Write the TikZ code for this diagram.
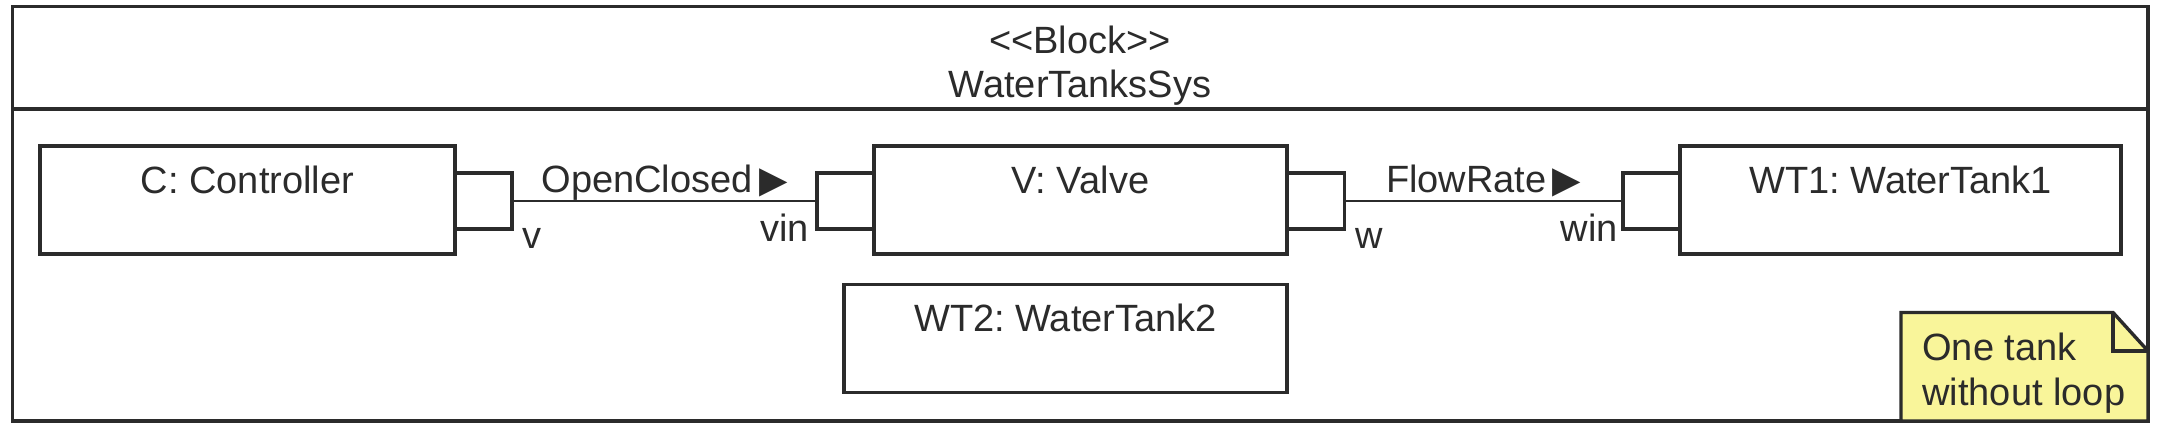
\documentclass[tikz,border=0pt]{standalone}
\usepackage{fontspec}
\setmainfont{Liberation Sans}[Ligatures=TeXOff]
\newfontfamily\symbfont{DejaVu Sans}
\usetikzlibrary{positioning,calc}
\definecolor{ink}{HTML}{2B2B2B}
\definecolor{notefill}{HTML}{F9F59A}
\tikzset{
  part/.style={draw=ink, line width=1.7pt, inner sep=0pt, text height=23.5pt, text depth=30.5pt, minimum height=54pt},
  port/.style={draw=ink, line width=1.7pt, fill=white, inner sep=0pt, minimum width=28.5pt, minimum height=28pt},
  flow/.style={draw=ink, line width=1.2pt},
  portname/.style={inner sep=0pt, text=ink},
}
\newcommand{\flowtri}{{\symbfont\fontsize{18.5}{18.5}\selectfont ▶}}

\begin{document}
\frenchspacing
\begin{tikzpicture}[x=0.5pt, y=-0.5pt, font=\fontsize{19}{22}\selectfont\frenchspacing, text=ink]
        \useasboundingbox (0,0) rectangle (2162,433);

        % Define corners of the block frame
        \coordinate (F1) at (12.5,6.5);    % Top-left
        \coordinate (F2) at (2148,421);    % Bottom-right
        \coordinate (L1) at (12.5,109);    % Title line, left
        \coordinate (L2) at (2148,109);    % Title line, right

        % Draw block frame and title compartment
        \draw[ink, line width=1.7pt] (F1) rectangle (F2);
        \draw[ink, line width=1.7pt] (L1) -- (L2);
        \node[anchor=north, inner sep=0pt, align=center] (title) at (1080,25.5) {<<Block>>\\WaterTanksSys};

        % Draw parts
        \node[part, minimum width=207.5pt] (C) at (247.5,200) {C: Controller};
        \node[part, minimum width=206.5pt] (V) at (1080.5,200) {V: Valve};
        \node[part, minimum width=220.5pt] (WT1) at (1900.5,200) {WT1: WaterTank1};
        \node[part, minimum width=221.5pt] (WT2) at (1065.5,338.5) {WT2: WaterTank2};

        % Draw ports on the part borders
        \node[port] (vport) at (483.5,201) {};
        \node[port] (vinport) at (845.5,201) {};
        \node[port] (wport) at (1316,201) {};
        \node[port] (winport) at (1651.5,201) {};

        % Draw connectors with item flows
        \draw[flow] (vport.east) -- (vinport.west) node[midway, anchor=base, yshift=4.5pt] (ocl) {OpenClosed\,\flowtri};
        \draw[flow] (wport.east) -- (winport.west) node[midway, anchor=base, yshift=4.5pt] (frl) {FlowRate\,\flowtri};

        % Label ports
        \node[portname, anchor=base west] (vlab) at ([xshift=4pt, yshift=-9pt]vport.south east) {v};
        \node[portname, anchor=base east] (vinlab) at ([xshift=-3pt, yshift=-5.5pt]vinport.south west) {vin};
        \node[portname, anchor=base west] (wlab) at ([xshift=4.5pt, yshift=-9pt]wport.south east) {w};
        \node[portname, anchor=base east] (winlab) at ([xshift=-1.5pt, yshift=-5.5pt]winport.south west) {win};

        % Define corners of the note
        \coordinate (N1) at (1901,312.5);  % Top-left
        \coordinate (N2) at (2113,312.5);  % Start of fold
        \coordinate (N3) at (2148,351);    % End of fold
        \coordinate (N4) at (2148,421);    % Bottom-right
        \coordinate (N5) at (1901,421);    % Bottom-left
        \coordinate (N6) at (2113,351);    % Fold corner

        % Draw note with folded corner
        \draw[ink, fill=notefill, line width=1.7pt] (N1) -- (N2) -- (N3) -- (N4) -- (N5) -- cycle;
        \draw[ink, line width=1.7pt] (N2) -- (N6) -- (N3);
        \node[anchor=north west, inner sep=0pt, align=left, font=\fontsize{19}{22.5}\selectfont] (note) at (1922,332.5) {One tank\\without loop};
\end{tikzpicture}
\end{document}
